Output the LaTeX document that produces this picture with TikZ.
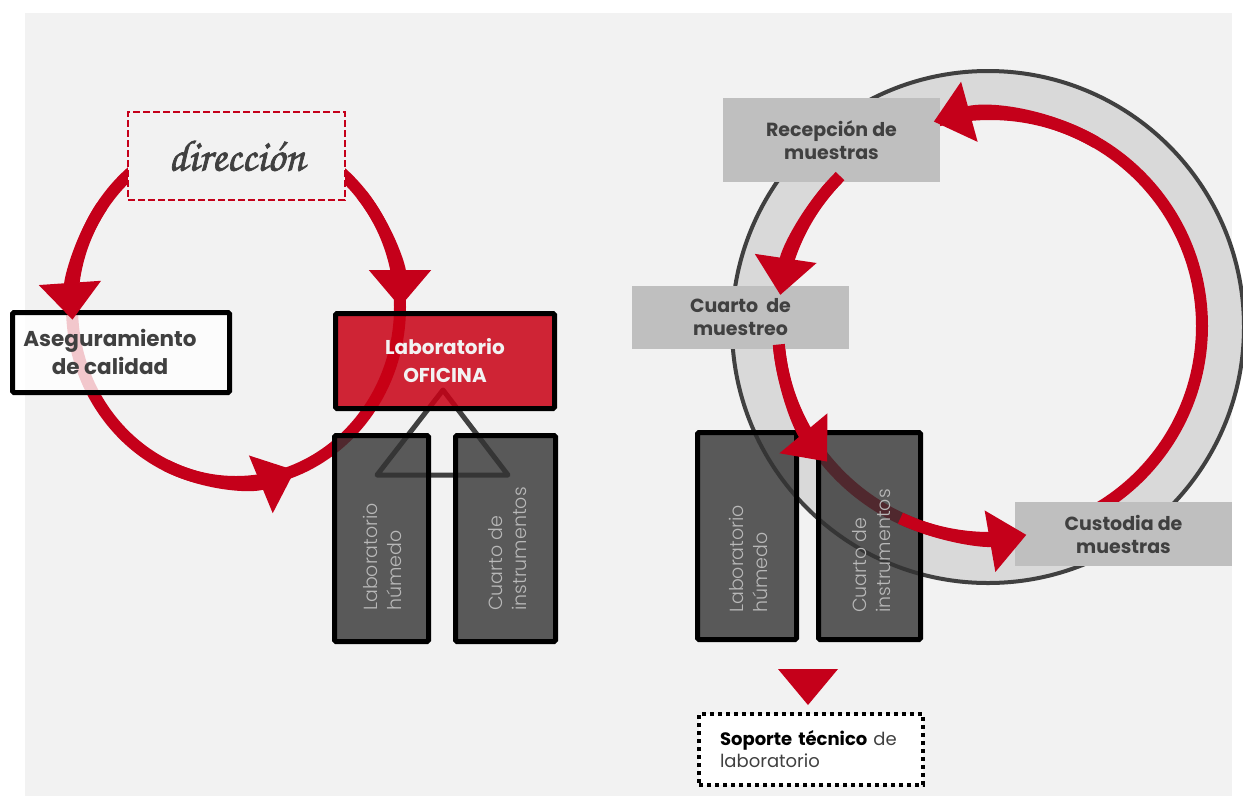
\documentclass[tikz,border=0pt]{standalone}
\usepackage{fontspec}
\setmainfont{Poppins}
\newfontfamily\thinfont{Poppins Light}
\newfontfamily\handfont{texgyrechorus-mediumitalic.otf}[FakeBold=1.6]
\usetikzlibrary{arrows.meta}

\definecolor{pagegray}{HTML}{F2F2F2}
\definecolor{ringgray}{HTML}{D9D9D9}
\definecolor{ringline}{HTML}{404040}
\definecolor{boxgray}{HTML}{BFBFBF}
\definecolor{txtgray}{HTML}{404040}
\definecolor{roomtxt}{HTML}{B8B8B8}
\definecolor{loopred}{HTML}{C5001A}
\definecolor{labred}{HTML}{C90015}
\definecolor{roomfill}{HTML}{333333}

\begin{document}
\begin{tikzpicture}[x=1pt,y=-1pt,
  loop/.style={draw=loopred,line width=12pt},
  headarc/.style={draw=loopred,line width=12pt,-{Triangle[length=37pt,width=60pt]}},
  heavybox/.style={draw=black,line width=5pt,rounded corners=1.5pt,inner sep=0pt},
  roombox/.style={heavybox,fill=roomfill,fill opacity=0.8},
  flatbox/.style={fill=boxgray,inner sep=0pt,text=txtgray,align=center,
    font=\bfseries\fontsize{19}{23}\selectfont},
  roomtext/.style={rotate=90,anchor=west,align=left,inner sep=0pt,text=roomtxt,
    font=\thinfont\fontsize{19}{24}\selectfont},
]
\useasboundingbox (0,0) rectangle (1243,796);
\fill[white] (0,0) rectangle (1243,796);
\fill[pagegray] (25,13) rectangle (1232,796);

% ---------- left cycle ----------
\coordinate (lc) at (236,307);
\draw[loop] (lc) ellipse [x radius=164, y radius=175];

% hierarchy triangle behind the rooms
\draw[draw=txtgray,line width=5pt,line join=round] (443,390) -- (508,475) -- (377,475) -- cycle;

\node[draw=loopred,line width=2pt,dash pattern=on 7pt off 3pt,fill=pagegray,
      minimum width=217pt,minimum height=88pt,inner sep=0pt,text=txtgray,
      font=\handfont\fontsize{44}{44}\selectfont] (dir) at (236.5,156) {\raisebox{-4pt}{dirección}};

\node[heavybox,fill=white,fill opacity=0.78,minimum width=217pt,minimum height=80pt] (aseg) at (121,352.5) {};
\node[inner sep=0pt,align=center,text=txtgray,font=\bfseries\fontsize{21.5}{28}\selectfont] (asegtext) at (110,352) {Aseguramiento\\de calidad};

\node[heavybox,fill=labred,fill opacity=0.85,text opacity=1,text=pagegray,align=center,
      minimum width=219pt,minimum height=95pt,font=\bfseries\fontsize{20}{28}\selectfont] (ofic) at (445,361) {Laboratorio\\OFICINA};

\node[roombox,minimum width=94pt,minimum height=206pt] (hum1) at (381.5,538.5) {};
\node[roombox,minimum width=100pt,minimum height=206pt] (ins1) at (505.5,538.5) {};
\node[roomtext] (hum1t) at (382,611) {Laboratorio\\húmedo};
\node[roomtext] (ins1t) at (508,611) {Cuarto de\\instrumentos};

% arrowheads of the left cycle
\draw[headarc] ([shift={(215:164 and 175)}]lc) arc[start angle=215,end angle=175.8,x radius=164,y radius=175];
\draw[headarc] ([shift={(-40:164 and 175)}]lc) arc[start angle=-40,end angle=0,x radius=164,y radius=175];
\draw[headarc] ([shift={(115:164 and 175)}]lc) arc[start angle=115,end angle=68.9,x radius=164,y radius=175];

% ---------- right cycle ----------
\coordinate (rc) at (990,326);
\draw[draw=ringline,line width=4pt,fill=ringgray] (988,327) circle [radius=256];
\fill[pagegray] (rc) circle [radius=218];
\draw[loop] (rc) circle [radius=212];

\node[flatbox,minimum width=217pt,minimum height=84pt] (recep) at (831.5,140) {Recepción de\\muestras};
\node[flatbox,minimum width=217pt,minimum height=63pt] (cuarto) at (740.5,317.5) {Cuarto~ de\\muestreo};
\node[flatbox,minimum width=217pt,minimum height=64pt] (custo) at (1123.5,534) {Custodia de\\muestras};

\node[roombox,minimum width=99pt,minimum height=207pt] (hum2) at (747,536) {};
\node[roombox,minimum width=102pt,minimum height=207pt] (ins2) at (869.5,536) {};
\node[roomtext] (hum2t) at (748,613) {Laboratorio\\húmedo};
\node[roomtext] (ins2t) at (872,613) {Cuarto de\\instrumentos};

% arrowheads of the right cycle
\draw[headarc] ([shift={(300:212)}]rc) arc[start angle=300,end angle=254.6,radius=212];
\draw[headarc] ([shift={(225:212)}]rc) arc[start angle=225,end angle=188.4,radius=212];
\draw[headarc] ([shift={(175:212)}]rc) arc[start angle=175,end angle=140.2,radius=212];
\draw[headarc] ([shift={(115:212)}]rc) arc[start angle=115,end angle=80.1,radius=212];

% ---------- technical support ----------
\node[draw=black,line width=4pt,dash pattern=on 4pt off 4pt,fill=white,
      minimum width=224pt,minimum height=71pt,inner sep=0pt,
      text width=182pt,align=left,text=txtgray,font=\fontsize{18}{22}\selectfont] (sop) at (811,749.5)
      {\textcolor{black}{\bfseries Soporte técnico} de\\laboratorio};
\fill[loopred] (778,669) -- (838,669) -- (808,705) -- cycle;
\end{tikzpicture}
\end{document}
